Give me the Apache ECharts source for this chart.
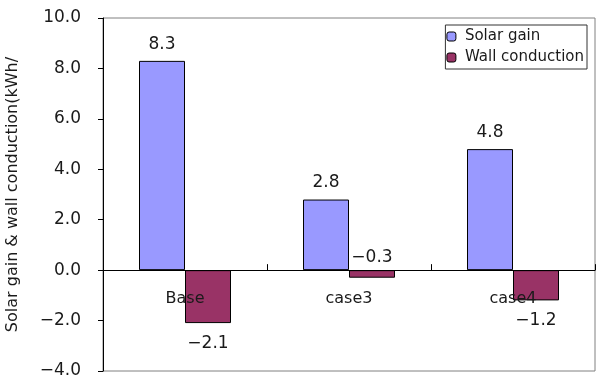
<!DOCTYPE html>
<html>
<head>
<meta charset="utf-8">
<script src="https://cdn.jsdelivr.net/npm/echarts@6/dist/echarts.min.js"></script>
<style>html,body{margin:0;padding:0;background:#fff}#c{width:598px;height:381px}</style>
</head>
<body>
<div id="c"></div>
<script>
const categories = ['Base', 'case3', 'case4'];
const solarGain = [8.3, 2.8, 4.8];
const wallConduction = [-2.1, -0.3, -1.2];
const wallLabelPos = ['bottom', 'top', 'bottom'];
const yTicks = { min: -4, max: 10, interval: 2 };

const font = 'DejaVu Sans, sans-serif';
const ink = '#1a1a1a';
const minus = s => s.replace('-', '\u2212');
const chart = echarts.init(document.getElementById('c'));
chart.setOption({
  animation: false,
  backgroundColor: '#fff',
  textStyle: { fontFamily: font },
  grid: {
    left: 103, right: 3, top: 18, bottom: 10,
    containLabel: false, outerBoundsMode: 'none',
    show: true, borderColor: '#808080', borderWidth: 1
  },
  legend: {
    orient: 'vertical', right: 11, top: 25,
    itemWidth: 9, itemHeight: 9, itemGap: 6,
    padding: [4, 3, 4, 1],
    borderColor: '#333', borderWidth: 1, borderRadius: 0,
    textStyle: { fontSize: 15, color: ink, padding: [0, 0, 0, 4] },
    data: [
      { name: 'Solar gain', itemStyle: { borderColor: '#000', borderWidth: 1 } },
      { name: 'Wall conduction', itemStyle: { borderColor: '#000', borderWidth: 1 } }
    ]
  },
  xAxis: {
    type: 'category', data: categories, z: 10,
    axisLine: { onZero: true, lineStyle: { color: '#000' } },
    axisTick: { show: true, inside: true, length: 6, lineStyle: { color: '#000' } },
    axisLabel: { margin: 21, fontSize: 16, color: ink }
  },
  yAxis: {
    type: 'value', min: yTicks.min, max: yTicks.max, interval: yTicks.interval,
    name: 'Solar gain & wall conduction(kWh/', nameLocation: 'middle', nameGap: 82,
    nameTextStyle: { fontSize: 16, color: ink },
    axisLine: { show: true, lineStyle: { color: '#000' } },
    axisTick: { show: true, length: 5, lineStyle: { color: '#000' } },
    axisLabel: { margin: 22, fontSize: 17, color: ink, formatter: v => minus(v.toFixed(1)) },
    splitLine: { show: false }
  },
  series: [
    {
      name: 'Solar gain', type: 'bar', barWidth: 46, barGap: '0%',
      itemStyle: { color: '#9999FF', borderColor: '#000', borderWidth: 1 },
      label: { show: true, position: 'top', distance: 8, fontSize: 17, color: ink, formatter: p => p.value.toFixed(1) },
      data: solarGain
    },
    {
      name: 'Wall conduction', type: 'bar', barWidth: 46,
      itemStyle: { color: '#993366', borderColor: '#000', borderWidth: 1 },
      label: { show: true, fontSize: 17, color: ink, formatter: p => minus(p.value.toFixed(1)) },
      data: wallConduction.map((v, i) => ({
        value: v,
        label: { position: wallLabelPos[i], distance: wallLabelPos[i] === 'bottom' ? 12 : 4 }
      }))
    }
  ]
});

// Category labels sit just under the zero line; measure where the axis placed
// them and pull them up to the zero baseline.
const zeroY = chart.convertToPixel({ yAxisIndex: 0 }, 0);
const floorY = chart.convertToPixel({ yAxisIndex: 0 }, yTicks.min);
const lift = Math.round(floorY - zeroY);
chart.setOption({ xAxis: { axisLabel: { margin: 21 - lift } } });
</script>
</body>
</html>
